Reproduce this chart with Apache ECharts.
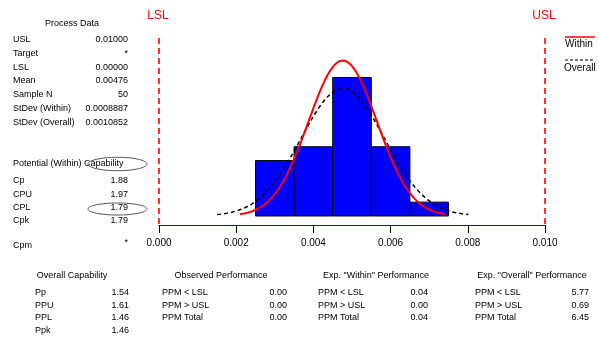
<!DOCTYPE html>
<html>
<head>
<meta charset="utf-8">
<script src="https://cdn.jsdelivr.net/npm/echarts@6/dist/echarts.min.js"></script>
<style>
html, body { margin: 0; padding: 0; background: #fff; }
#chart { width: 599px; height: 340px; }
</style>
</head>
<body>
<div id="chart"></div>
<script>
// Specification limits and process statistics
const limitValues = [0.0, 0.01];
const limitNames = ['LSL', 'USL'];
const mean = 0.00476;
const sdWithin = 0.0008887;
const sdOverall = 0.0010852;
const sampleN = 50;

// Histogram bins
const binStarts = [0.0025, 0.0035, 0.0045, 0.0055, 0.0065];
const binWidth = 0.001;
const binCounts = [8, 10, 20, 10, 2];

// Text tables
const processLabels = ['USL', 'Target', 'LSL', 'Mean', 'Sample N', 'StDev (Within)', 'StDev (Overall)'];
const processValues = ['0.01000', '*', '0.00000', '0.00476', '50', '0.0008887', '0.0010852'];
const potentialLabels = ['Cp', 'CPU', 'CPL', 'Cpk'];
const potentialValues = ['1.88', '1.97', '1.79', '1.79'];
const cpmValue = '*';
const overallLabels = ['Pp', 'PPU', 'PPL', 'Ppk'];
const overallValues = ['1.54', '1.61', '1.46', '1.46'];
const ppmLabels = ['PPM < LSL', 'PPM > USL', 'PPM Total'];
const observedValues = ['0.00', '0.00', '0.00'];
const expWithinValues = ['0.04', '0.00', '0.04'];
const expOverallValues = ['5.77', '0.69', '6.45'];

// Fitted normal curve, scaled to histogram counts, over mean ± 3 sd
function normalCurve(mu, sd) {
  const pts = [];
  const steps = 80;
  const scale = sampleN * binWidth / (sd * Math.sqrt(2 * Math.PI));
  for (let i = 0; i <= steps; i++) {
    const x = mu - 3 * sd + (6 * sd) * i / steps;
    const z = (x - mu) / sd;
    pts.push([x, scale * Math.exp(-0.5 * z * z)]);
  }
  return pts;
}

const FONT = '"Liberation Sans", Arial, sans-serif';
const small = '9px ' + FONT;
const RED = '#ff0000';
const Y_MIN = -1.3;
const Y_MAX = 25.7;

function txt(x, y, s, align) {
  return {
    type: 'text', x: x, y: y, silent: true,
    style: { text: s, font: small, fill: '#000', textAlign: align || 'left', textVerticalAlign: 'middle' }
  };
}

const graphics = [];
// Process data
graphics.push(txt(72, 24, 'Process Data', 'center'));
const procY = [40, 54, 68, 81, 95, 109, 123];
processLabels.forEach((l, i) => {
  graphics.push(txt(13, procY[i], l));
  graphics.push(txt(128, procY[i], processValues[i], 'right'));
});
// Potential (within) capability
graphics.push(txt(13, 164, 'Potential (Within) Capability'));
const potY = [181, 195, 208, 221];
potentialLabels.forEach((l, i) => {
  graphics.push(txt(13, potY[i], l));
  graphics.push(txt(128, potY[i], potentialValues[i], 'right'));
});
graphics.push(txt(13, 246, 'Cpm'));
graphics.push(txt(128, 243, cpmValue, 'right'));
// Highlight ellipses
graphics.push({ type: 'ellipse', silent: true, shape: { cx: 117.5, cy: 164, rx: 29.5, ry: 6.7 }, style: { fill: 'none', stroke: '#555', lineWidth: 1 } });
graphics.push({ type: 'ellipse', silent: true, shape: { cx: 117.5, cy: 209, rx: 29.5, ry: 6 }, style: { fill: 'none', stroke: '#555', lineWidth: 1 } });

// Bottom tables
const rowY = [293, 306, 318, 331];
graphics.push(txt(72, 276, 'Overall Capability', 'center'));
overallLabels.forEach((l, i) => {
  graphics.push(txt(35, rowY[i], l));
  graphics.push(txt(129, rowY[i], overallValues[i], 'right'));
});
graphics.push(txt(221, 276, 'Observed Performance', 'center'));
graphics.push(txt(376, 276, 'Exp. "Within" Performance', 'center'));
graphics.push(txt(532, 276, 'Exp. "Overall" Performance', 'center'));
ppmLabels.forEach((l, i) => {
  graphics.push(txt(162, rowY[i], l));
  graphics.push(txt(287, rowY[i], observedValues[i], 'right'));
  graphics.push(txt(318, rowY[i], l));
  graphics.push(txt(428, rowY[i], expWithinValues[i], 'right'));
  graphics.push(txt(475, rowY[i], l));
  graphics.push(txt(589, rowY[i], expOverallValues[i], 'right'));
});

// Legend
graphics.push({ type: 'line', silent: true, shape: { x1: 565, y1: 37, x2: 595, y2: 37 }, style: { stroke: RED, lineWidth: 1.5 } });
graphics.push({ type: 'text', x: 565, y: 44, silent: true, style: { text: 'Within', font: '10px ' + FONT, fill: '#000', textAlign: 'left', textVerticalAlign: 'middle' } });
graphics.push({ type: 'line', silent: true, shape: { x1: 565, y1: 60, x2: 595, y2: 60 }, style: { stroke: '#000', lineWidth: 1, lineDash: [3, 2] } });
graphics.push({ type: 'text', x: 564, y: 68, silent: true, style: { text: 'Overall', font: '10px ' + FONT, fill: '#000', textAlign: 'left', textVerticalAlign: 'middle' } });

const chart = echarts.init(document.getElementById('chart'), null, { renderer: 'canvas' });
chart.setOption({
  animation: false,
  backgroundColor: '#fff',
  grid: { left: 159, right: 54, top: 38, bottom: 115 },
  xAxis: {
    type: 'value', min: 0, max: 0.01, interval: 0.002,
    axisLine: { onZero: false, lineStyle: { color: '#0000ff', width: 1 } },
    axisTick: { show: true, length: 8, lineStyle: { color: '#000' } },
    axisLabel: { color: '#000', fontSize: 10, fontFamily: FONT, margin: 13, formatter: v => v.toFixed(3) },
    splitLine: { show: false }
  },
  yAxis: { type: 'value', min: Y_MIN, max: Y_MAX, show: false, splitLine: { show: false }, axisLine: { show: false } },
  graphic: graphics,
  series: [
    {
      // histogram bars
      type: 'custom',
      data: binStarts.map((s, i) => [s, s + binWidth, binCounts[i]]),
      encode: { x: [0, 1], y: 2 },
      renderItem: function (params, api) {
        const p0 = api.coord([api.value(0), 0]);
        const p1 = api.coord([api.value(1), api.value(2)]);
        return {
          type: 'rect',
          shape: { x: p0[0], y: p1[1], width: p1[0] - p0[0], height: p0[1] - p1[1] },
          style: { fill: '#0000ff', stroke: '#000', lineWidth: 1 }
        };
      }
    },
    {
      // specification limit lines with their labels
      type: 'custom',
      silent: true,
      z: 5,
      data: limitValues.map(v => [v]),
      encode: { x: 0 },
      renderItem: function (params, api) {
        const bottom = api.coord([api.value(0), Y_MIN]);
        const top = api.coord([api.value(0), Y_MAX]);
        const x = bottom[0];
        return {
          type: 'group',
          children: [
            {
              type: 'line',
              shape: { x1: x, y1: top[1], x2: x, y2: bottom[1] },
              style: { stroke: RED, lineWidth: 1.6, lineDash: [6, 4] }
            },
            {
              type: 'text',
              x: x - 1, y: top[1] - 22,
              style: { text: limitNames[params.dataIndex], font: '12px ' + FONT, fill: RED, textAlign: 'center', textVerticalAlign: 'middle' }
            }
          ]
        };
      }
    },
    {
      type: 'line', name: 'Overall', data: normalCurve(mean, sdOverall),
      showSymbol: false, silent: true,
      lineStyle: { color: '#000', width: 1.5, type: [4, 3] }
    },
    {
      type: 'line', name: 'Within', data: normalCurve(mean, sdWithin),
      showSymbol: false, silent: true,
      lineStyle: { color: RED, width: 2 }
    }
  ]
});
</script>
</body>
</html>
